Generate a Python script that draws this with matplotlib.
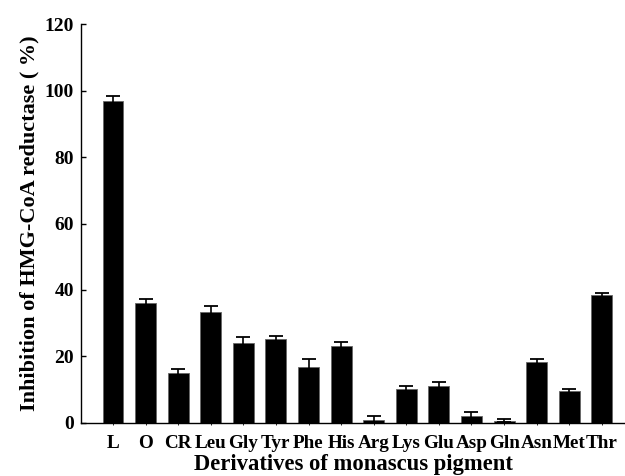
import matplotlib
matplotlib.use("Agg")
import matplotlib.pyplot as plt
import numpy as np

categories = ["L", "O", "CR", "Leu", "Gly", "Tyr", "Phe", "His", "Arg", "Lys",
              "Glu", "Asp", "Gln", "Asn", "Met", "Thr"]
values = [96.9, 36.1, 15.1, 33.4, 23.9, 25.2, 16.8, 23.2, 0.7, 10.2,
          11.1, 1.9, 0.6, 18.2, 9.5, 38.5]
errors = [1.4, 1.1, 1.0, 1.7, 1.9, 0.9, 2.5, 1.0, 1.2, 0.9,
          1.1, 1.4, 0.5, 0.9, 0.6, 0.5]
yticks = [0, 20, 40, 60, 80, 100, 120]

plt.rcParams['font.family'] = ['Liberation Serif', 'DejaVu Serif']
plt.rcParams['font.weight'] = 'bold'

fig = plt.figure(figsize=(6.25, 4.76), dpi=100)
ax = fig.add_axes([81 / 625, 1 - 422.7 / 476, (625 - 81) / 625, (422.7 - 24.3) / 476])

x = np.arange(len(categories))
ax.bar(x, values, width=0.64, color='black', edgecolor='#666666', linewidth=0.6,
       yerr=errors, capsize=5, error_kw=dict(ecolor='black', elinewidth=1.2, capthick=1.3))

ax.set_xlim(-0.98, 15.71)
ax.set_ylim(0, 120)
ax.set_yticks(yticks)
ax.set_yticklabels([str(t) for t in yticks], fontsize=14, fontweight='bold')
ax.set_xticks(x)
ax.set_xticklabels(categories, fontsize=13.8, fontweight='bold')
ax.tick_params(axis='y', direction='in', length=3.5, width=1.0, pad=5)
ax.tick_params(axis='x', direction='out', length=1.5, width=0.6, pad=7)

for s in ['top', 'right']:
    ax.spines[s].set_visible(False)
for s in ['left', 'bottom']:
    ax.spines[s].set_linewidth(1.0)

ax.set_xlabel("Derivatives of monascus pigment", fontsize=16.3, fontweight='bold', labelpad=2)
ax.set_ylabel("Inhibition of HMG-CoA reductase ( %)", fontsize=16, fontweight='bold', labelpad=4)

fig.savefig("out.png", dpi=100)
